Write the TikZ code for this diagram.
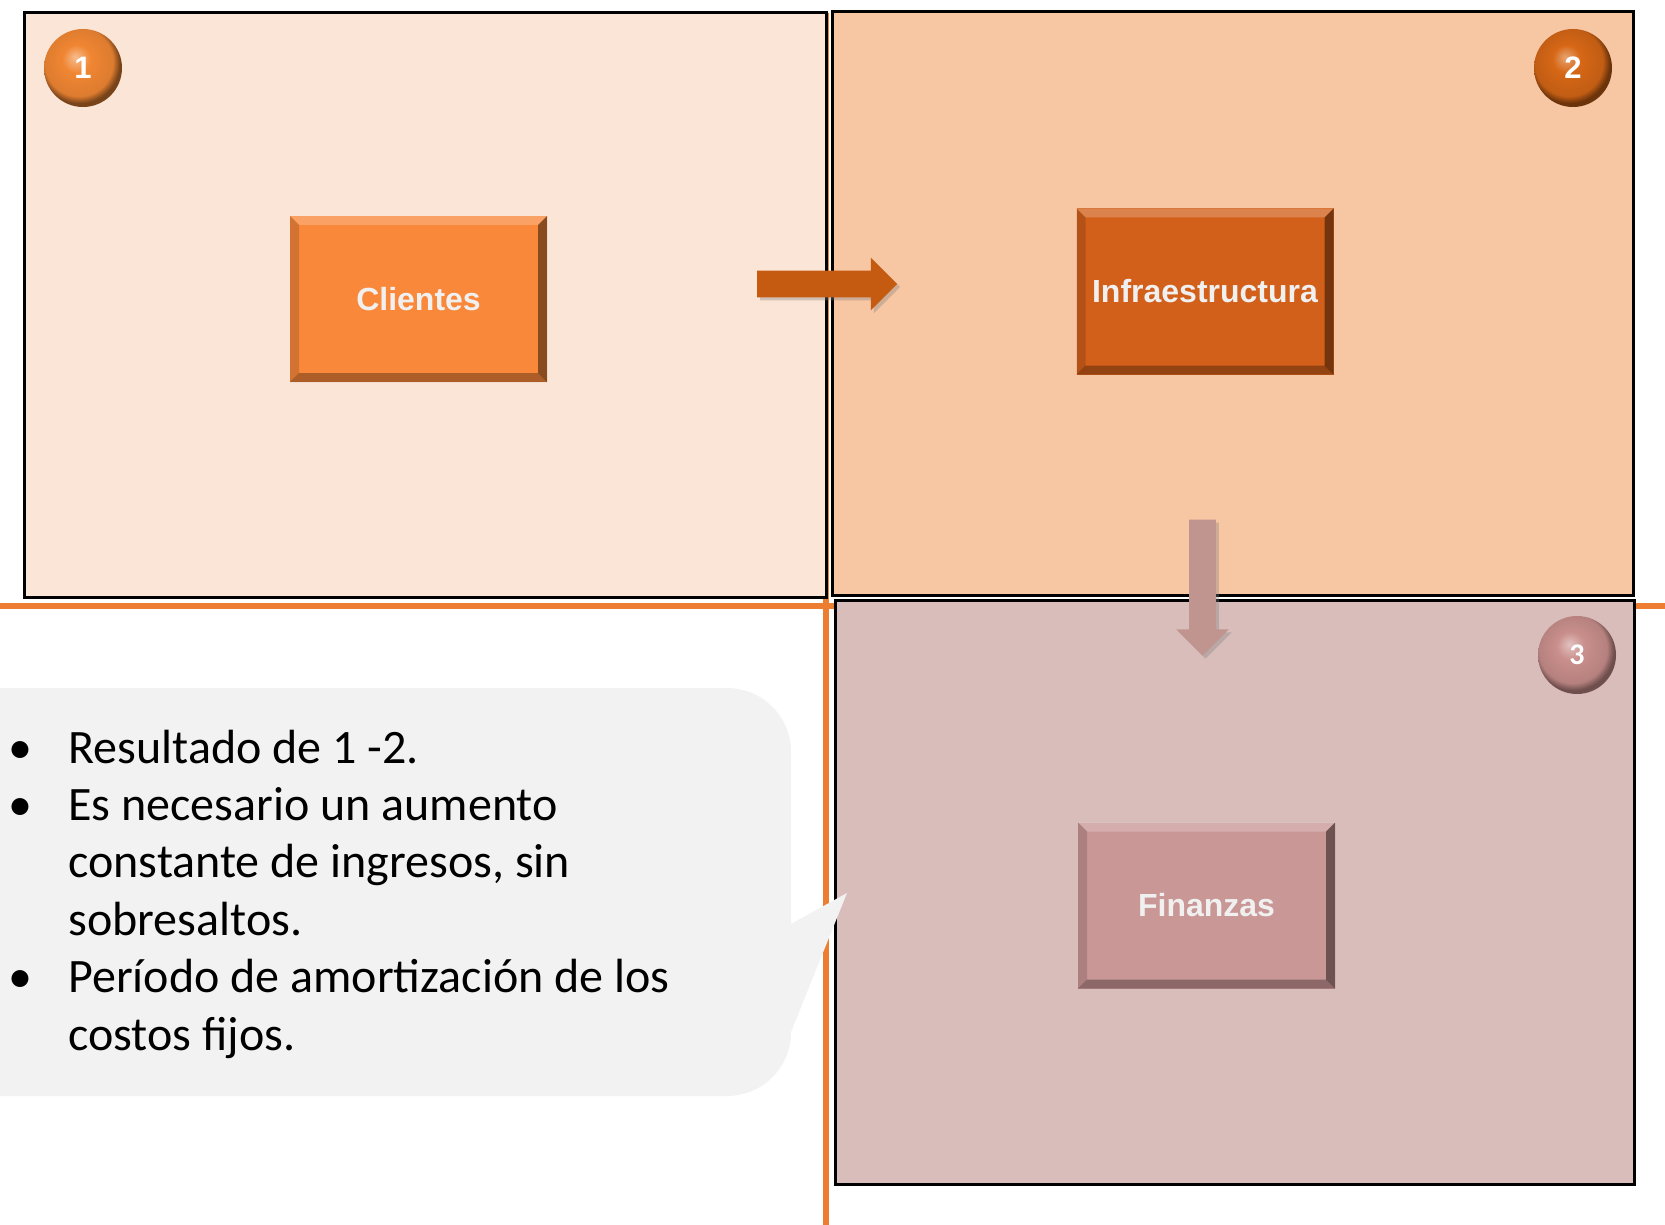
\documentclass[tikz,border=0pt]{standalone}
\usepackage{fontspec}
\setmainfont{Carlito}
\newfontfamily\arialfont{Liberation Sans}
\usetikzlibrary{shapes.arrows,shadows}
\definecolor{panelA}{HTML}{FBE5D6}
\definecolor{panelB}{HTML}{F7C6A3}
\definecolor{panelC}{HTML}{D9BDBB}
\definecolor{boxA}{HTML}{F9883A}
\definecolor{boxB}{HTML}{D3601A}
\definecolor{boxC}{HTML}{C99795}
\definecolor{arrowA}{HTML}{C55A11}
\definecolor{arrowB}{HTML}{C1958F}
\definecolor{numA}{HTML}{F08633}
\definecolor{numB}{HTML}{D66716}
\definecolor{numC}{HTML}{C98F8C}
\definecolor{lineOrange}{HTML}{ED7D31}
\definecolor{bubble}{HTML}{F2F2F2}
\pgfdeclareradialshading{bolaA}{\pgfpoint{-5bp}{7bp}}{color(0bp)=(numA!55!white); color(9bp)=(numA); color(22bp)=(numA!92!black); color(26bp)=(numA!50!black); color(50bp)=(numA!50!black)}
\pgfdeclareradialshading{bolaB}{\pgfpoint{-5bp}{7bp}}{color(0bp)=(numB!60!white); color(9bp)=(numB); color(22bp)=(numB!90!black); color(26bp)=(numB!50!black); color(50bp)=(numB!50!black)}
\pgfdeclareradialshading{bolaC}{\pgfpoint{-5bp}{7bp}}{color(0bp)=(numC!55!white); color(9bp)=(numC); color(22bp)=(numC!90!black); color(26bp)=(numC!55!black); color(50bp)=(numC!55!black)}

\begin{document}
\begin{tikzpicture}[x=0.5pt,y=0.5pt]
\tikzstyle{every node}+=[inner sep=0pt]
\tikzstyle{panel}=[draw=black, line width=1.3pt, anchor=north west]
\tikzstyle{bisel}=[path picture={
  \fill [white, opacity=0.22] (path picture bounding box.north west) -- (path picture bounding box.north east) -- ([shift={(-4.5pt,-4.5pt)}]path picture bounding box.north east) -- ([shift={(4.5pt,-4.5pt)}]path picture bounding box.north west) -- cycle;
  \fill [black, opacity=0.45] (path picture bounding box.north east) -- (path picture bounding box.south east) -- ([shift={(-4.5pt,4.5pt)}]path picture bounding box.south east) -- ([shift={(-4.5pt,-4.5pt)}]path picture bounding box.north east) -- cycle;
  \fill [black, opacity=0.3] (path picture bounding box.south west) -- (path picture bounding box.south east) -- ([shift={(-4.5pt,4.5pt)}]path picture bounding box.south east) -- ([shift={(4.5pt,4.5pt)}]path picture bounding box.south west) -- cycle;
  \fill [black, opacity=0.15] (path picture bounding box.north west) -- (path picture bounding box.south west) -- ([shift={(4.5pt,4.5pt)}]path picture bounding box.south west) -- ([shift={(4.5pt,-4.5pt)}]path picture bounding box.north west) -- cycle;
}]
\tikzstyle{bloque}=[bisel, minimum width=128.5pt, minimum height=83pt, text=white!94!black, font=\arialfont\bfseries\fontsize{16}{19}\selectfont]
\tikzstyle{numero}=[circle, minimum size=39pt, text=white, font=\arialfont\bfseries\fontsize{15.5}{18}\selectfont]
\tikzstyle{flecha}=[single arrow, inner sep=6.5pt, single arrow head extend=6.5pt, drop shadow={opacity=0.35, shadow xshift=1.5pt, shadow yshift=-1.5pt}]
\useasboundingbox (0,0) rectangle (1665,-1225);
\fill [white] (0,0) rectangle (1665,-1225);
\draw [lineOrange, line width=3pt] (0,-606) -- (1665,-606);
\draw [lineOrange, line width=3pt] (826,-13) -- (826,-1225);
\node (panelClientes) [panel, fill=panelA, minimum width=401pt, minimum height=292.5pt] at (23,-11) {};
\node (panelInfra) [panel, fill=panelB, minimum width=400.5pt, minimum height=292pt] at (831,-10) {};
\node (panelFinanzas) [panel, fill=panelC, minimum width=399.5pt, minimum height=292pt] at (834,-599) {};
\node (clientes) [bloque, fill=boxA] at (418.5,-299) {Clientes};
\node (infra) [bloque, fill=boxB] at (1205,-291.5) {Infraestructura};
\node (finanzas) [bloque, fill=boxC] at (1206.5,-905.5) {Finanzas};
\node (uno) [numero, shading=bolaA] at (83,-68) {1};
\node (dos) [numero, shading=bolaB] at (1573,-68) {2};
\node (tres) [numero, shading=bolaC, font=\bfseries\fontsize{15}{18}\selectfont] at (1577,-655) {3};
\node (flechaDer) [flecha, fill=arrowA, minimum height=70pt] at (820.5,-284) {};
\node (flechaAbajo) [flecha, fill=arrowB, minimum height=68pt, shape border rotate=270] at (1202.5,-581) {};
\fill [bubble] (-70,-688) -- (727,-688) arc [start angle=90, end angle=0, radius=64] -- (791,-924) -- (847,-893) -- (791,-1032) arc [start angle=0, end angle=-90, radius=64] -- (-70,-1096) -- cycle;
\node (notas) [anchor=base west, font=\fontsize{24}{28.7}\selectfont] at (8,-763) {%
\begin{tabular}[t]{@{}p{30pt}@{}l@{}}
• & Resultado de 1 -2.\\
• & Es necesario un aumento\\
  & constante de ingresos, sin\\
  & sobresaltos.\\
• & Período de amortización de los\\
  & costos fijos.
\end{tabular}};
\end{tikzpicture}
\end{document}
